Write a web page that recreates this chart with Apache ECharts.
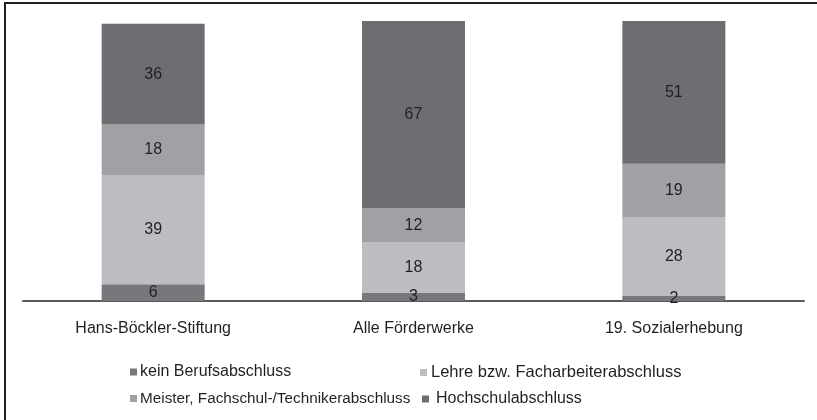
<!DOCTYPE html>
<html>
<head>
<meta charset="utf-8">
<script src="https://cdn.jsdelivr.net/npm/echarts@6/dist/echarts.min.js"></script>
<style>
  html, body { margin: 0; padding: 0; background: #fff; }
  #chart { width: 817px; height: 420px; }
</style>
</head>
<body>
<div id="chart"></div>
<script>
const categories = ['Hans-Böckler-Stiftung', 'Alle Förderwerke', '19. Sozialerhebung'];
const seriesNames = [
  'kein Berufsabschluss',
  'Lehre bzw. Facharbeiterabschluss',
  'Meister, Fachschul-/Technikerabschluss',
  'Hochschulabschluss',
];
const keinBeruf = [6, 3, 2];
const lehre = [39, 18, 28];
const meister = [18, 12, 19];
const hochschule = [36, 67, 51];
const colors = ['#77787b', '#bcbdc0', '#a0a1a4', '#6d6e71'];

const FONT = 'Liberation Sans, Arial, sans-serif';
const values = [keinBeruf, lehre, meister, hochschule];

const series = seriesNames.map((name, i) => ({
  name,
  type: 'bar',
  stack: 'total',
  barWidth: 103,
  data: values[i],
  itemStyle: { color: colors[i] },
  label: {
    show: true,
    position: 'inside',
    color: '#231f20',
    fontFamily: FONT,
    fontSize: 16,
  },
  emphasis: { disabled: true },
}));

// one legend per item so the two rows line up like the original
const legendPos = [
  { left: 130, top: 364, size: 16, gap: -2 },
  { left: 420, top: 364, size: 16.5, gap: -1 },
  { left: 130, top: 391, size: 15.3, gap: -2 },
  { left: 422, top: 391, size: 16, gap: 2 },
];
const legends = seriesNames.map((name, i) => ({
  data: [name],
  left: legendPos[i].left,
  top: legendPos[i].top,
  icon: 'rect',
  itemWidth: 7,
  itemHeight: 7,
  itemGap: 0,
  padding: 0,
  textStyle: {
    color: '#231f20',
    fontFamily: FONT,
    fontSize: legendPos[i].size,
    padding: [0, 0, 0, legendPos[i].gap],
  },
  selectedMode: false,
}));

const chart = echarts.init(document.getElementById('chart'));
chart.setOption({
  animation: false,
  color: colors,
  grid: { left: 23, right: 13, top: 21, bottom: 119 },
  legend: legends,
  xAxis: {
    type: 'category',
    data: categories,
    axisLine: { lineStyle: { color: '#58595b', width: 2 } },
    axisTick: { show: false },
    axisLabel: { color: '#231f20', fontFamily: FONT, fontSize: 16, margin: 20 },
  },
  yAxis: {
    type: 'value',
    min: 0,
    max: 100,
    show: false,
    splitLine: { show: false },
  },
  graphic: [{
    type: 'rect',
    shape: { x: 5, y: 3, width: 830, height: 430 },
    style: { fill: 'none', stroke: '#231f20', lineWidth: 2 },
    silent: true,
  }],
  series,
});
</script>
</body>
</html>
